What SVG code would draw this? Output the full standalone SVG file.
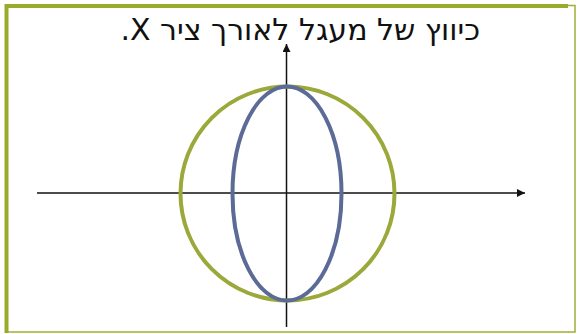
<svg xmlns="http://www.w3.org/2000/svg" width="578" height="334" viewBox="0 0 578 334">
<style>
.frame{fill:none;stroke:#9fae3a}
.axis{stroke:#111;stroke-width:1.5;fill:none}
.title{font-family:"DejaVu Sans","Liberation Sans",sans-serif;font-size:30px;fill:#111}
</style>
<defs>
<marker id="arr" viewBox="0 0 10 10" refX="10" refY="5" markerWidth="9" markerHeight="8" markerUnits="userSpaceOnUse" orient="auto">
<path d="M0,0 L10,5 L0,10 z" fill="#111"/>
</marker>
</defs>
<rect width="578" height="334" fill="#fff"/>
<g id="frame">
<rect class="frame" x="6.5" y="5.5" width="568.5" height="326.5" stroke-width="1.5"/>
<line x1="6.5" y1="4" x2="6.5" y2="333" stroke="#9aab2c" stroke-width="4"/>
<line x1="5" y1="6" x2="568" y2="6" stroke="#9aab2c" stroke-width="4"/>
</g>
<g id="title">
<text class="title" x="480" y="40" direction="rtl" unicode-bidi="embed" text-anchor="start">כיווץ של מעגל לאורך ציר X.</text>
</g>
<g id="connectors">
<line class="axis" x1="37" y1="193" x2="525" y2="193" marker-end="url(#arr)"/>
<line class="axis" x1="286.5" y1="327" x2="286.5" y2="44" marker-end="url(#arr)"/>
</g>
<g id="circle">
<circle cx="287.5" cy="193.5" r="107" fill="none" stroke="#9ba83a" stroke-width="4"/>
</g>
<g id="ellipse">
<ellipse cx="287" cy="193.5" rx="54.5" ry="107" fill="none" stroke="#5b6a96" stroke-width="4"/>
</g>
</svg>
